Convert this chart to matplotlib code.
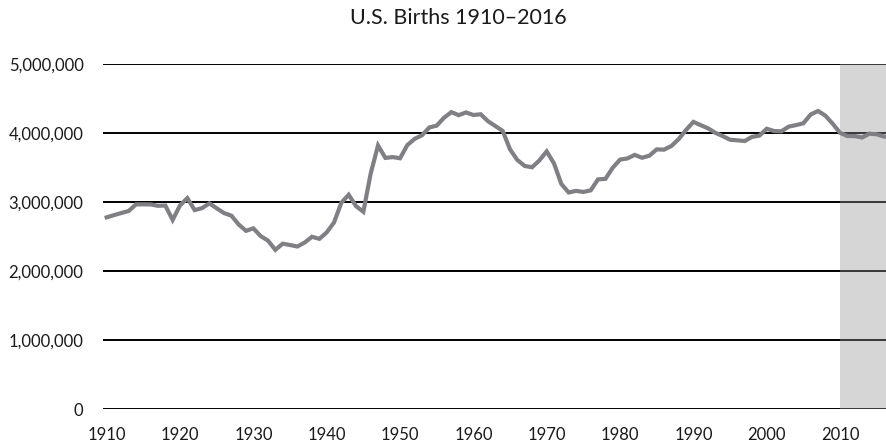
import matplotlib
matplotlib.use("Agg")
import matplotlib.pyplot as plt
from matplotlib.ticker import FuncFormatter

plt.rcParams['font.family'] = ['Lato', 'DejaVu Sans']

years = list(range(1910, 2017))
births = [
    2777000, 2809000, 2840000, 2869000, 2965000, 2965000, 2964000, 2944000, 2948000, 2740000,
    2950000, 3055000, 2882000, 2910000, 2979000, 2909000, 2839000, 2802000, 2674000, 2582000,
    2618000, 2506000, 2440000, 2307000, 2396000, 2377000, 2355000, 2413000, 2496000, 2466000,
    2559000, 2703000, 2989000, 3104000, 2939000, 2858000, 3411000, 3817000, 3637000, 3649000,
    3632000, 3823000, 3913000, 3965000, 4078000, 4104000, 4218000, 4300000, 4255000, 4295000,
    4257850, 4268326, 4167362, 4098020, 4027490, 3760358, 3606274, 3520959, 3501564, 3600206,
    3731386, 3555970, 3258411, 3136965, 3159958, 3144198, 3167788, 3326632, 3333279, 3494398,
    3612258, 3629238, 3680537, 3638933, 3669141, 3760561, 3756547, 3809394, 3909510, 4040958,
    4158212, 4110907, 4065014, 4000240, 3952767, 3899589, 3891494, 3880894, 3941553, 3959417,
    4058814, 4025933, 4021726, 4089950, 4112052, 4138349, 4265555, 4316233, 4247694, 4130665,
    3999386, 3953590, 3952841, 3932181, 3988076, 3978497, 3945875,
]
x_ticks = [1910, 1920, 1930, 1940, 1950, 1960, 1970, 1980, 1990, 2000, 2010]
y_ticks = [0, 1000000, 2000000, 3000000, 4000000, 5000000]
shade_start, shade_end = 2010, 2016.5
title = "U.S. Births 1910–2016"

fig = plt.figure(figsize=(8.87, 4.48), dpi=100)
ax = fig.add_axes([103/887, 38.7/448, 1 - 103/887, (409.3 - 63.7)/448])

for y in y_ticks:
    ax.axhline(y, color='black', lw=1.4, zorder=0)
ax.axvspan(shade_start, shade_end, color='#949498', alpha=0.38, lw=0, zorder=1)
ax.plot(years, births, color='#808084', lw=3.0, zorder=3, solid_joinstyle='miter')

ax.set_xlim(1909.5, 2016.4)
ax.set_ylim(0, 5000000)
ax.set_xticks(x_ticks)
ax.set_yticks(y_ticks)
ax.yaxis.set_major_formatter(FuncFormatter(lambda v, p: f"{int(v):,}"))
ax.tick_params(length=0, labelsize=12, colors='#1a1a1a')
ax.tick_params(axis='x', pad=13)
ax.tick_params(axis='y', pad=14)
for s in ax.spines.values():
    s.set_visible(False)
ax.patch.set_visible(False)

fig.text(458/887, 1 - 18.5/448, title, ha='center', va='center', fontsize=15.5, color='#1a1a1a')

fig.savefig("out.png", dpi=100)
